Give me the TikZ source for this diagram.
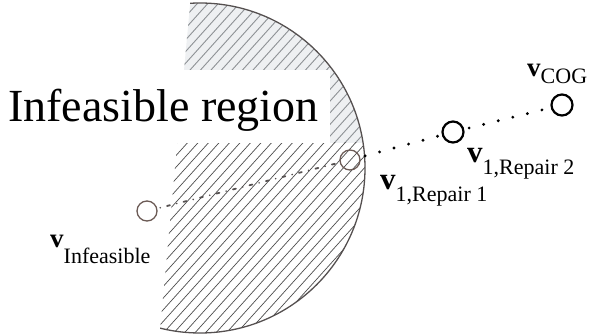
\documentclass[tikz,border=0pt]{standalone}
\usepackage{fontspec}
\setmainfont{Liberation Serif}
\newcommand\vlabel[4]{{\fontsize{#1}{#1}\selectfont\bfseries v}\raisebox{-#2pt}{\fontsize{#3}{#3}\selectfont #4}}
\definecolor{hatchdark}{HTML}{4A4A4A}
\definecolor{hatchlight}{HTML}{8E9296}
\definecolor{topfill}{HTML}{EEF0F2}
\definecolor{rim}{HTML}{555050}
\definecolor{thinpt}{HTML}{6B5A55}
\begin{document}
\begin{tikzpicture}[x=1pt,y=-1pt,
  thinpoint/.style={circle,draw=thinpt,line width=1.3pt,minimum size=20pt,inner sep=0pt},
  boldpoint/.style={circle,draw=black,line width=2.2pt,minimum size=21pt,inner sep=0pt},
  dotconn/.style={draw=black,line width=3.2pt,line cap=round,dash pattern=on 0pt off 15pt,shorten <=5pt,shorten >=4pt},
  dashdotconn/.style={draw=rim,line width=1.8pt,line cap=round,dash pattern=on 0pt off 7pt on 3pt off 7pt,shorten <=3pt,shorten >=3pt},
  lab/.style={anchor=base west,inner sep=0pt}]
\useasboundingbox (0,0) rectangle (590,334);
% hatched region
\begin{scope}
  \clip (200,168) circle (165pt);
  \clip (191.4,-10) -- (159.1,340) -- (600,340) -- (600,-10) -- cycle;
  \begin{scope}
    \clip (0,-10) rectangle (600,143);
    \fill[topfill] (0,-10) rectangle (600,143);
    \foreach \k in {-200,-189.5,...,400}{
      \draw[hatchlight,line width=0.9pt] (\k,340) -- (\k+306,0);
    }
  \end{scope}
  \begin{scope}
    \clip (0,143) rectangle (600,340);
    \foreach \k in {-200,-189.5,...,400}{
      \draw[hatchdark,line width=0.7pt] (\k,340) -- (\k+306,0);
    }
  \end{scope}
\end{scope}
\begin{scope}
  \clip (191.4,-10) -- (159.1,340) -- (600,340) -- (600,-10) -- cycle;
  \draw[rim,line width=1.3pt] (200,168) circle (165pt);
\end{scope}
% text band
\fill[white] (0,70) rectangle (330,143);
\node[lab,font=\fontsize{46}{46}\selectfont] (title) at (8,122) {Infeasible region};
% points
\node[thinpoint] (inf) at (147,211) {};
\node[thinpoint] (rep1) at (350,160) {};
\node[boldpoint] (rep2) at (453,132) {};
\node[boldpoint] (cog) at (562,105) {};
% connectors
\draw[dashdotconn] (inf) -- (rep1);
\draw[dotconn] (rep1) -- (rep2);
\draw[dotconn] (rep2) -- (cog);
% labels
\node[lab] (linf) at (50,248) {\vlabel{27}{16}{22}{Infeasible}};
\node[lab] (lrep1) at (380,190) {\vlabel{31}{12}{22}{1,Repair 1}};
\node[lab] (lrep2) at (467,163) {\vlabel{31}{12}{22}{1,Repair 2}};
\node[lab] (lcog) at (527,77) {\vlabel{27}{7}{22}{COG}};
\end{tikzpicture}
\end{document}
